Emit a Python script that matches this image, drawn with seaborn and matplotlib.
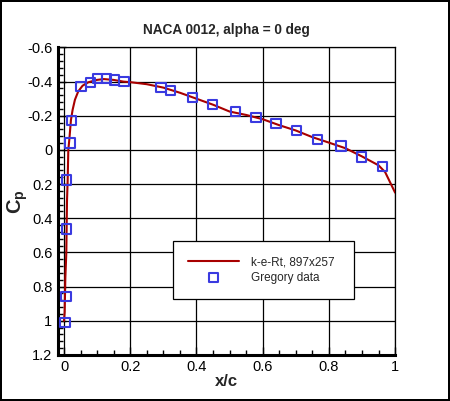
import matplotlib
matplotlib.use("Agg")
import matplotlib.pyplot as plt
from matplotlib.ticker import MultipleLocator, AutoMinorLocator, FormatStrFormatter
import seaborn as sns
import pandas as pd

# CFD curve (k-e-Rt, 897x257)
cfd_x = [0.0, 0.002, 0.003, 0.004, 0.005, 0.007, 0.008, 0.009, 0.011, 0.013, 0.016,
         0.021, 0.026, 0.033, 0.043, 0.056, 0.073, 0.099, 0.12, 0.15, 0.18, 0.2,
         0.25, 0.3, 0.35, 0.4, 0.45, 0.5, 0.55, 0.6, 0.65, 0.7, 0.75, 0.8, 0.85,
         0.9, 0.95, 0.97, 0.98, 0.99, 1.0]
cfd_cp = [1.0, 0.95, 0.85, 0.75, 0.7, 0.6, 0.45, 0.3, 0.18, 0.0, -0.06,
          -0.176, -0.235, -0.294, -0.343, -0.376, -0.396, -0.41, -0.415, -0.41, -0.40, -0.397,
          -0.385, -0.365, -0.335, -0.30, -0.265, -0.225, -0.205, -0.18, -0.145, -0.114, -0.075, -0.043, -0.01,
          0.038, 0.09, 0.13, 0.17, 0.21, 0.25]

# Gregory experimental data
exp_x = [0.003, 0.006, 0.008, 0.008, 0.018, 0.023, 0.051, 0.081, 0.102, 0.129,
         0.152, 0.181, 0.293, 0.322, 0.389, 0.449, 0.517, 0.58, 0.64, 0.703,
         0.766, 0.837, 0.898, 0.961]
exp_cp = [1.01, 0.857, 0.463, 0.176, -0.04, -0.172, -0.37, -0.396, -0.42, -0.42,
          -0.41, -0.40, -0.367, -0.349, -0.306, -0.266, -0.225, -0.19, -0.153, -0.114,
          -0.06, -0.024, 0.041, 0.098]

sns.set_style("white")
plt.rcParams["font.family"] = ["Liberation Sans", "DejaVu Sans"]
plt.rcParams["axes.unicode_minus"] = False
plt.rcParams["mathtext.fontset"] = "custom"
plt.rcParams["mathtext.bf"] = "Liberation Sans:bold"
plt.rcParams["mathtext.rm"] = "Liberation Sans"

cfd = pd.DataFrame({"x": cfd_x, "cp": cfd_cp})
exp = pd.DataFrame({"x": exp_x, "cp": exp_cp})

fig = plt.figure(figsize=(4.5, 4.01), dpi=100, edgecolor="black", linewidth=1.5)
ax = fig.add_axes([0.129, 0.115, 0.749, 0.7666])

sns.lineplot(data=cfd, x="x", y="cp", ax=ax, color="#a80000", linewidth=1.5,
             sort=False, estimator=None, label="k-e-Rt, 897x257", zorder=3)
sns.scatterplot(data=exp, x="x", y="cp", ax=ax, marker="s", s=45,
                facecolor="none", edgecolor="#3a3ae0", linewidth=1.5,
                label="Gregory data", zorder=4)

ax.set_xlim(-0.018, 1.0)
ax.set_ylim(1.2, -0.6)
ax.xaxis.set_major_locator(MultipleLocator(0.2))
ax.xaxis.set_minor_locator(AutoMinorLocator(4))
ax.yaxis.set_major_locator(MultipleLocator(0.2))
ax.yaxis.set_minor_locator(AutoMinorLocator(5))
ax.xaxis.set_major_formatter(FormatStrFormatter("%g"))
ax.yaxis.set_major_formatter(FormatStrFormatter("%g"))

ax.tick_params(which="both", direction="in", colors="black", labelsize=10.5,
               bottom=True, left=True, top=False, right=False)
ax.tick_params(which="major", length=6, width=1, pad=4)
ax.tick_params(which="minor", length=3.5, width=1)

ax.grid(True, which="major", color="black", linewidth=0.9)
for side in ["left", "bottom"]:
    ax.spines[side].set_linewidth(2.2)
    ax.spines[side].set_color("black")
for side in ["top", "right"]:
    ax.spines[side].set_linewidth(0.9)
    ax.spines[side].set_color("black")

ax.set_title("NACA 0012, alpha = 0 deg", fontsize=9.8, fontweight="bold", pad=10)
ax.set_xlabel("x/c", fontsize=12, fontweight="bold", labelpad=0)
ax.set_ylabel(r"$\mathbf{C_p}$", fontsize=14.5)
ax.yaxis.set_label_coords(-0.083, 0.5)

leg = ax.legend(loc="lower left", bbox_to_anchor=(0.341, 0.182, 0.537, 0.195),
                mode="expand", fontsize=8.5, frameon=True, fancybox=False,
                edgecolor="black", framealpha=1, borderpad=1.3, labelspacing=0.3,
                handlelength=4.3, handletextpad=1.0, borderaxespad=0)
leg.get_frame().set_linewidth(0.9)

fig.savefig("out.png", dpi=100, edgecolor=fig.get_edgecolor())
